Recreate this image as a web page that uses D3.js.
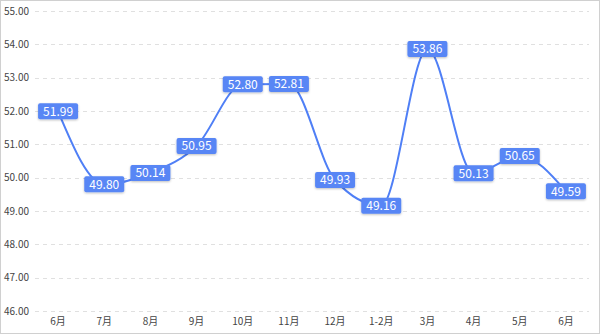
<!DOCTYPE html>
<html>
<head>
<meta charset="utf-8">
<script src="https://cdn.jsdelivr.net/npm/d3@7"></script>
<style>
  body { margin: 0; background: #fff; }
  svg { display: block; font-family: "Noto Sans CJK SC", "Microsoft YaHei", sans-serif; }
</style>
</head>
<body>
<div id="chart"></div>
<script>
// data
let months = ["6月", "7月", "8月", "9月", "10月", "11月", "12月", "1-2月", "3月", "4月", "5月", "6月 "];
let values = [51.99, 49.80, 50.14, 50.95, 52.80, 52.81, 49.93, 49.16, 53.86, 50.13, 50.65, 49.59];
let yTicks = [46, 47, 48, 49, 50, 51, 52, 53, 54, 55];

let width = 600, height = 335;
let margin = {left: 35, right: 11, top: 11, bottom: 24};

let svg = d3.select("#chart").append("svg")
    .attr("width", width)
    .attr("height", height);

// outer frame
svg.append("rect")
    .attr("x", 0.5).attr("y", 0.5)
    .attr("width", width - 1).attr("height", height - 2)
    .attr("fill", "none").attr("stroke", "#d0d0d0");

let xScaler = d3.scaleBand().domain(months)
    .range([margin.left, width - margin.right]);

let yScaler = d3.scaleLinear().domain([46, 55])
    .range([height - margin.bottom, margin.top]);

// grid lines
svg.append("g").selectAll("line").data(yTicks).enter().append("line")
    .attr("x1", margin.left).attr("x2", width - margin.right)
    .attr("y1", d => Math.round(yScaler(d)) + 0.5)
    .attr("y2", d => Math.round(yScaler(d)) + 0.5)
    .attr("stroke", "#e0e0e0")
    .attr("stroke-dasharray", "4,4");

// y labels
svg.append("g").selectAll("text").data(yTicks).enter().append("text")
    .attr("x", 29)
    .attr("y", d => yScaler(d))
    .attr("dy", "0.35em")
    .attr("text-anchor", "end")
    .attr("font-size", 10)
    .attr("fill", "#444")
    .text(d => d.toFixed(2));

// x labels
svg.append("g").selectAll("text").data(months).enter().append("text")
    .attr("x", d => xScaler(d) + xScaler.bandwidth() / 2)
    .attr("y", height - margin.bottom + 14)
    .attr("text-anchor", "middle")
    .attr("font-size", 10)
    .attr("fill", "#444")
    .text(d => d.trim());

let cx = (d, i) => xScaler(months[i]) + xScaler.bandwidth() / 2;

let line = d3.line()
    .x(cx)
    .y(d => yScaler(d))
    .curve(d3.curveMonotoneX);

svg.append("path")
    .datum(values)
    .attr("d", line)
    .attr("fill", "none")
    .attr("stroke", "#4f7ff6")
    .attr("stroke-width", 2);

// shadow for label boxes
let defs = svg.append("defs");
let f = defs.append("filter").attr("id", "sh")
    .attr("x", "-20%").attr("y", "-30%").attr("width", "140%").attr("height", "170%");
f.append("feDropShadow").attr("dx", 0).attr("dy", 1).attr("stdDeviation", 1)
    .attr("flood-color", "#000").attr("flood-opacity", 0.25);

let labels = svg.append("g").selectAll("g").data(values).enter().append("g")
    .attr("transform", (d, i) => "translate(" + cx(d, i) + "," + yScaler(d) + ")");

labels.append("rect")
    .attr("x", -20).attr("y", -8)
    .attr("width", 40).attr("height", 16)
    .attr("rx", 2)
    .attr("fill", "#5886f5")
    .attr("filter", "url(#sh)");

labels.append("text")
    .attr("text-anchor", "middle")
    .attr("dy", "0.36em")
    .attr("font-size", 12)
    .attr("fill", "#fff")
    .text(d => d.toFixed(2));
</script>
</body>
</html>
